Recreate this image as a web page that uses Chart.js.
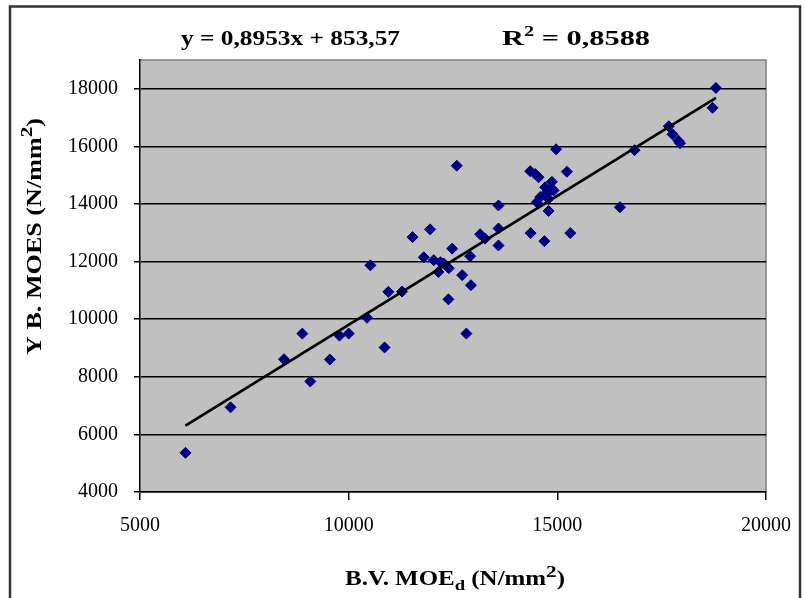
<!DOCTYPE html>
<html><head><meta charset="utf-8">
<script src="https://cdn.jsdelivr.net/npm/chart.js@4/dist/chart.umd.min.js"></script>
<style>html,body{margin:0;padding:0;background:#fff;}#wrap{width:805px;height:598px;}</style>
</head><body><div id="wrap"><canvas id="c" width="805" height="598"></canvas></div>
<script>
// B.V. MOEd (N/mm2)
const moeD = [6090,7170,8450,8890,9080,9550,9780,10000,10440,10860,10950,11280,10520,11530,11950,11800,12040,12200,12280,12150,12400,12480,12390,12720,12930,12820,12910,12590,13150,13270,13590,13590,13590,14360,14690,15310,14350,14470,14550,15230,14870,14710,14870,14790,14710,14910,14590,14790,14510,14790,14970,16500,16850,17670,17760,17900,17940,18720,18800];
// Y B. MOES (N/mm2)
const moes = [5360,6940,8610,9500,7840,8600,9430,9500,10050,9020,10950,10960,11870,12850,13120,12150,12050,11980,11930,11640,11770,12450,10690,11530,11180,9500,12190,15330,12950,12800,13950,13150,12560,12990,12710,12990,15140,15040,14930,15120,14770,14580,14530,14410,14350,14470,14240,14180,14060,13760,15900,13890,15870,16700,16420,16200,16110,17340,18030];
const trendSlope = 0.8953;
const trendIntercept = 853.57;
const rSquared = "0,8588";
const xTickValues = [5000,10000,15000,20000];
const yTickValues = [4000,6000,8000,10000,12000,14000,16000,18000];
const xTitle = ["B.V. MOE","d"," (N/mm","2",")"];
const yTitle = ["Y B. MOES (N/mm","2",")"];

const points = moeD.map((x,i)=>({x:x,y:moes[i]}));
const xmin = Math.min(...moeD), xmax = Math.max(...moeD);
const trend = [xmin,xmax].map(x=>({x:x,y:trendSlope*x+trendIntercept}));

const FONT = "'Liberation Serif','Times New Roman',serif";

function drawParts(ctx, parts, x, y, targetW){
  let w=0;
  parts.forEach(p=>{ctx.font="bold "+p[1]+"px "+FONT; w+=ctx.measureText(p[0]).width;});
  const s = targetW/w;
  ctx.save(); ctx.translate(x,y); ctx.scale(s,1);
  let cx=0;
  parts.forEach(p=>{ctx.font="bold "+p[1]+"px "+FONT; ctx.fillText(p[0],cx,p[2]); cx+=ctx.measureText(p[0]).width;});
  ctx.restore();
}

const deco = {
  id:'deco',
  beforeDraw(chart){
    const {ctx, chartArea:a} = chart;
    ctx.save();
    ctx.fillStyle='#fff'; ctx.fillRect(0,0,chart.width,chart.height);
    ctx.fillStyle='#c0c0c0'; ctx.fillRect(a.left,a.top,a.right-a.left,a.bottom-a.top);
    ctx.strokeStyle='#808080'; ctx.lineWidth=1.5;
    ctx.beginPath(); ctx.moveTo(a.left,a.top); ctx.lineTo(a.right,a.top); ctx.lineTo(a.right,a.bottom); ctx.stroke();
    ctx.strokeStyle='#333'; ctx.lineWidth=2.5;
    ctx.strokeRect(10,6.5,790,600);
    ctx.restore();
  },
  afterDraw(chart){
    const {ctx} = chart;
    ctx.save();
    ctx.fillStyle='#000'; ctx.textBaseline='alphabetic'; ctx.textAlign='left';
    drawParts(ctx,[["y = "+String(trendSlope).replace('.',',')+"x + "+String(trendIntercept).replace('.',','),21,0]],181,45,219);
    drawParts(ctx,[["R",21,0],["2",14,-9],[" = "+rSquared,21,0]],502,45,148);
    drawParts(ctx,[[xTitle[0],20,0],[xTitle[1],15,5],[xTitle[2],20,0],[xTitle[3],17,-8],[xTitle[4],20,0]],345,585,220);
    ctx.save(); ctx.translate(41,355); ctx.rotate(-Math.PI/2);
    drawParts(ctx,[[yTitle[0],21,0],[yTitle[1],17,-9],[yTitle[2],21,0]],0,0,237);
    ctx.restore();
    ctx.restore();
  }
};

new Chart(document.getElementById('c'),{
  data:{datasets:[
    {type:'line',data:trend,borderColor:'#000',borderWidth:2.8,pointRadius:0,order:0,tension:0},
    {type:'scatter',data:points,pointStyle:'rectRot',pointRadius:5.5,pointBorderWidth:1,backgroundColor:'#000080',borderColor:'#000080',order:1}
  ]},
  options:{
    responsive:false, animation:false, devicePixelRatio:1,
    layout:{padding:{top:60,right:39,left:0,bottom:0}},
    plugins:{legend:{display:false},tooltip:{enabled:false}},
    scales:{
      x:{type:'linear',min:xTickValues[0],max:xTickValues[xTickValues.length-1],
        afterBuildTicks:s=>{s.ticks=xTickValues.map(v=>({value:v}));},
        afterFit:s=>{s.height=106;},
        ticks:{font:{family:FONT,size:20},color:'#000',padding:14,maxRotation:0,autoSkip:false,callback:v=>String(v)},
        grid:{drawOnChartArea:false,drawTicks:true,tickLength:8,color:'#000',lineWidth:1.5},
        border:{color:'#000',width:1.5}},
      y:{type:'linear',min:yTickValues[0],max:19000,
        afterBuildTicks:s=>{s.ticks=yTickValues.map(v=>({value:v}));},
        afterFit:s=>{s.width=140;},
        ticks:{font:{family:FONT,size:20},color:'#000',padding:16,autoSkip:false,callback:v=>String(v)},
        grid:{color:'#000',lineWidth:1.5,tickLength:6},
        border:{color:'#000',width:1.5}}
    }
  },
  plugins:[deco]
});
</script></body></html>
